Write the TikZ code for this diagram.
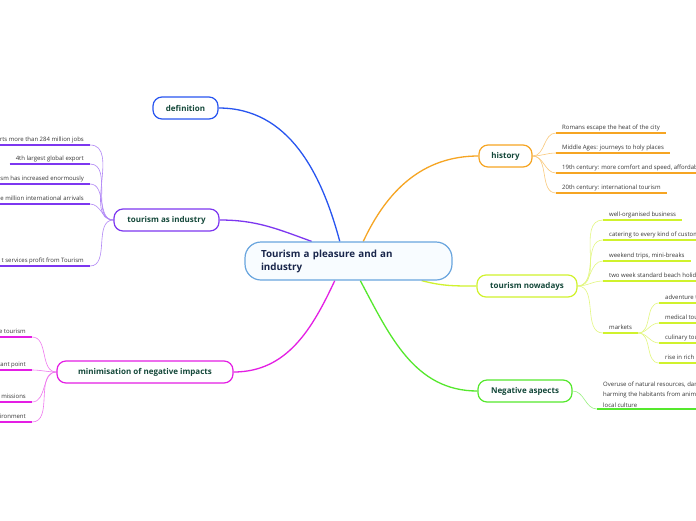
\documentclass[tikz,border=0pt]{standalone}
\usepackage{fontspec}
\setmainfont{Open Sans}
\usetikzlibrary{positioning, backgrounds}

\definecolor{hubline}{RGB}{105,165,222}
\definecolor{hubfill}{RGB}{248,252,255}
\definecolor{hubtext}{RGB}{25,38,75}
\definecolor{nodetext}{RGB}{20,72,58}
\definecolor{leaftext}{RGB}{55,55,55}
\definecolor{cdef}{RGB}{40,85,240}
\definecolor{cind}{RGB}{125,55,240}
\definecolor{cmin}{RGB}{228,30,228}
\definecolor{chis}{RGB}{246,165,35}
\definecolor{cnow}{RGB}{208,242,45}
\definecolor{cneg}{RGB}{85,232,45}

\begin{document}
\begin{tikzpicture}[
		x=1pt, y=1pt,
		% central idea
		hub/.style = {draw=hubline, fill=hubfill, line width=1.2pt, rounded corners=16pt, minimum height=38pt, text width=175pt, inner xsep=16pt, align=left, text=hubtext, font=\bfseries\fontsize{9.8}{13}\selectfont},
		% main topics round the hub
		topic/.style = {draw=#1, fill=white, line width=1.2pt, rounded corners=9pt, minimum height=22pt, text=nodetext, font=\bfseries\fontsize{8}{9}\selectfont},
		% sub topics, underlined in the colour of their branch
		leaf/.style = {inner xsep=6pt, inner ysep=1.5pt, text height=4.6pt, text depth=1.5pt, text=leaftext, font=\fontsize{6}{10.5}\selectfont,
			append after command={(\tikzlastnode.south west) edge[uline=#1] (\tikzlastnode.south east)}},
		uline/.style = {draw=#1, line width=1.8pt},
		branch/.style = {draw=#1, line width=1.3pt},
		twigr/.style = {draw=#1!60, line width=0.6pt, out=0, in=180},
		twigl/.style = {draw=#1!60, line width=0.6pt, out=180, in=0},
		]
		
		\useasboundingbox (0,0) rectangle (696,-520);
		
		% --- CENTRAL IDEA ---
		\node [hub] (hub) at (348.5,-261) {Tourism a pleasure and an\\industry};
		
		% --- MAIN TOPICS ---
		\node [topic=cdef, minimum width=65pt] (defin) at (185.5,-108) {definition};
		\node [topic=cind, minimum width=105pt] (indus) at (166.5,-220) {tourism as industry};
		\node [topic=cmin, minimum width=176pt] (minim) at (145,-372) {minimisation of negative impacts};
		\node [topic=chis, minimum width=53pt] (hist) at (505.5,-156) {history};
		\node [topic=cnow, minimum width=100pt] (nowad) at (527,-286) {tourism nowadays};
		\node [topic=cneg, minimum width=94pt] (negat) at (525,-391) {Negative aspects};
		
		% --- HISTORY ---
		\node [leaf=chis, anchor=south west] (his1) at (556,-133) {Romans escape the heat of the city};
		\node [leaf=chis, anchor=south west] (his2) at (556,-153) {Middle Ages: journeys to holy places};
		\node [leaf=chis, anchor=south west] (his3) at (556,-173) {19th century: more comfort and speed, affordab};
		\node [leaf=chis, anchor=south west] (his4) at (556,-193) {20th century: international tourism};
		
		% --- TOURISM NOWADAYS ---
		\node [leaf=cnow, anchor=south west] (now1) at (603,-220) {well-organised business};
		\node [leaf=cnow, anchor=south west] (now2) at (603,-240) {catering to every kind of custom};
		\node [leaf=cnow, anchor=south west] (now3) at (603,-261) {weekend trips, mini-breaks};
		\node [leaf=cnow, anchor=south west] (now4) at (603,-281) {two week standard beach holida};
		\node [leaf=cnow, anchor=south west] (mark) at (603,-333) {markets};
		\node [leaf=cnow, anchor=south west] (mkt1) at (659,-303) {adventure t};
		\node [leaf=cnow, anchor=south west] (mkt2) at (659,-323) {medical tou};
		\node [leaf=cnow, anchor=south west] (mkt3) at (659,-343) {culinary tou};
		\node [leaf=cnow, anchor=south west] (mkt4) at (659,-363) {rise in rich};
		
		% --- NEGATIVE ASPECTS ---
		\node [leaf=cneg, anchor=south west, text height={}, text depth={}, align=left] (neg1) at (597,-409) {Overuse of natural resources, dam\\harming the habitants from anima\\local culture};
		
		% --- TOURISM AS INDUSTRY (cut by the left edge) ---
		\node [leaf=cind, anchor=south east] (ind1) at (90,-145) {rts more than 284 million jobs};
		\node [leaf=cind, anchor=south east] (ind2) at (90,-164) {4th largest global export};
		\node [leaf=cind, anchor=south east] (ind3) at (90,-184) {sm has increased enormously};
		\node [leaf=cind, anchor=south east] (ind4) at (90,-204) {e million international arrivals};
		\node [leaf=cind, anchor=south east] (ind5) at (90,-266) {t services profit from Tourism};
		
		% --- MINIMISATION ---
		\node [leaf=cmin, anchor=south east] (min1) at (32,-337) {e tourism};
		\node [leaf=cmin, anchor=south east] (min2) at (32,-370) {tant point};
		\node [leaf=cmin, anchor=south east] (min3) at (32,-402) {missions};
		\node [leaf=cmin, anchor=south east] (min4) at (32,-422) {vironment};
		
		% --- CONNECTORS (behind the boxes) ---
		\begin{scope}[on background layer]
			\fill [white] (0,0) rectangle (696,-520);
			\draw [branch=cdef] (defin.east) to[out=0, in=105] (hub.114);
			\draw [branch=cind] (indus.east) to[out=0, in=160] (hub.152);
			\draw [branch=cmin] (minim.east) to[out=0, in=245] (hub.235);
			\draw [branch=chis] (hist.west) to[out=180, in=65] (hub.53);
			\draw [branch=cnow] (nowad.west) to[out=180, in=-15] (hub.-15);
			\draw [branch=cneg] (negat.west) to[out=180, in=-62] (hub.-59);
			
			\path (hist.east) edge[twigr=chis] (his1.south west) edge[twigr=chis] (his2.south west)
				edge[twigr=chis] (his3.south west) edge[twigr=chis] (his4.south west);
			\path (nowad.east) edge[twigr=cnow] (now1.south west) edge[twigr=cnow] (now2.south west)
				edge[twigr=cnow] (now3.south west) edge[twigr=cnow] (now4.south west)
				edge[twigr=cnow] (mark.south west);
			\path (mark.south east) edge[twigr=cnow] (mkt1.south west) edge[twigr=cnow] (mkt2.south west)
				edge[twigr=cnow] (mkt3.south west) edge[twigr=cnow] (mkt4.south west);
			\path (negat.east) edge[twigr=cneg] (neg1.south west);
			\path (indus.west) edge[twigl=cind] (ind1.south east) edge[twigl=cind] (ind2.south east)
				edge[twigl=cind] (ind3.south east) edge[twigl=cind] (ind4.south east)
				edge[twigl=cind] (ind5.south east);
			\path (minim.west) edge[twigl=cmin] (min1.south east) edge[twigl=cmin] (min2.south east)
				edge[twigl=cmin] (min3.south east) edge[twigl=cmin] (min4.south east);
		\end{scope}
		
	\end{tikzpicture}
\end{document}
